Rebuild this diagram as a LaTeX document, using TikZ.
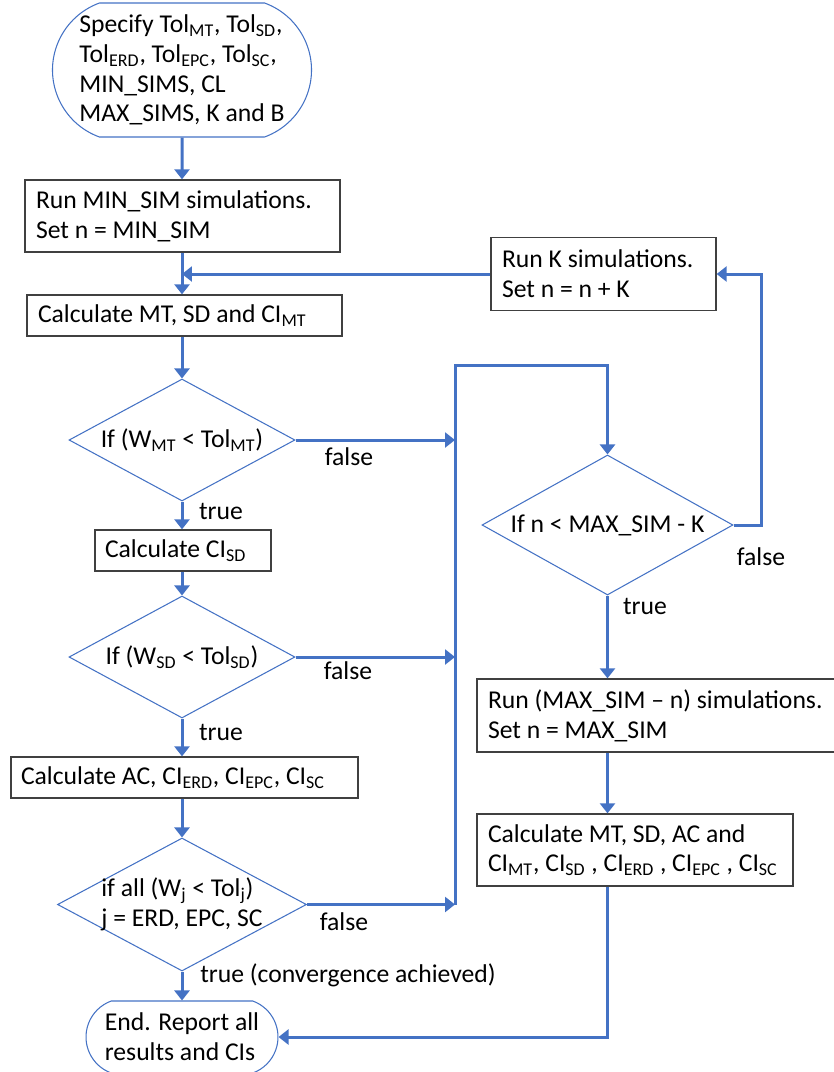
\documentclass[tikz,border=0pt]{standalone}
\usepackage{fontspec}
\setmainfont{Carlito}
\usepackage{tikz}
\definecolor{myblue}{RGB}{68,114,196}
\definecolor{mygray}{RGB}{64,64,64}
\usetikzlibrary{shapes.geometric,shapes.misc,arrows.meta,positioning,calc}
\newlength\pxu
\setlength\pxu{0.02cm}
\newcommand\lo[1]{\textsubscript{#1}}

\begin{document}
\begin{tikzpicture}[
  x=0.02cm, y=-0.02cm,
  font=\fontsize{14.6}{17}\selectfont,
  mybox/.style={
    draw=mygray,
    line width=0.75pt,
    align=flush left,
    inner xsep=11\pxu,
    inner ysep=0pt,
    text width=#1\pxu,
    minimum height=41\pxu
    },
  myterm/.style={
    draw=myblue,
    line width=0.6pt,
    rounded rectangle,
    rounded rectangle arc length=140,
    align=left,
    inner sep=0pt
    },
  mydecision/.style={
    draw=myblue,
    line width=0.6pt,
    diamond,
    shape aspect=#1,
    inner sep=0pt,
    align=left
    },
  flow/.style={
    draw=myblue,
    line width=0.06cm,
    -{Triangle[width=0.3cm,length=0.2cm]}
    },
  mylabel/.style={inner sep=0pt}
]

\useasboundingbox (0,0) rectangle (834,1072);

\node[myterm, minimum width=259\pxu, minimum height=134\pxu] (start) at (182,70)
  {Specify Tol\lo{MT}, Tol\lo{SD},\\
   Tol\lo{ERD}, Tol\lo{EPC}, Tol\lo{SC},\\
   MIN\_SIMS, CL\\
   MAX\_SIMS, K and B};

\node[mybox=293, minimum height=72\pxu] (run1) at (182.5,216)
  {Run MIN\_SIM simulations.\\ Set n = MIN\_SIM};
\node[mybox=293] (calc1) at (184.5,315.5) {Calculate MT, SD and CI\lo{MT}};

\node[mydecision=1.85, minimum width=226\pxu, minimum height=122\pxu] (dec1) at (182,440)
  {If (W\lo{MT} < Tol\lo{MT})};
\node[mybox=156, inner xsep=10\pxu] (calcsd) at (183,550.5) {Calculate CI\lo{SD}};
\node[mydecision=1.85, minimum width=226\pxu, minimum height=122\pxu] (dec2) at (182,657)
  {If (W\lo{SD} < Tol\lo{SD})};
\node[mybox=327, inner xsep=10\pxu] (calc2) at (184.5,777.5)
  {Calculate AC, CI\lo{ERD}, CI\lo{EPC}, CI\lo{SC}};
\node[mydecision=1.87, inner xsep=-14\pxu, minimum width=249\pxu, minimum height=133\pxu] (dec3) at (182,904.5)
  {if all (W\lo{j} < Tol\lo{j})\\ j = ERD, EPC, SC};
\node[myterm, minimum width=192\pxu, minimum height=72\pxu] (end) at (182,1037)
  {End. Report all\\ results and CIs};

\node[mybox=203, minimum height=73\pxu] (runk) at (603.5,274)
  {Run K simulations.\\ Set n = n + K};
\node[mydecision=1.79, inner xsep=-8\pxu, minimum width=251\pxu, minimum height=140\pxu] (dec4) at (607.5,525)
  {If n < MAX\_SIM - K};
\node[mybox=360, minimum height=73\pxu] (runmax) at (668,715.5)
  {Run (MAX\_SIM -- n) simulations.\\ Set n = MAX\_SIM};
\node[mybox=294, minimum height=72\pxu] (calc3) at (635,850)
  {Calculate MT, SD, AC and\\ CI\lo{MT}, CI\lo{SD} , CI\lo{ERD} , CI\lo{EPC} , CI\lo{SC}};

\coordinate (bus) at (455,365);

\draw[flow] (start) -- (start |- run1.north);
\draw[flow] (run1.south -| start) -- (calc1.north -| start);
\draw[flow] (runk.west) -- (runk.west -| start);
\draw[flow] (calc1.south -| start) -- (dec1.north);
\draw[flow] (dec1.south) -- (dec1.south |- calcsd.north);
\draw[flow] (calcsd.south -| start) -- (dec2.north);
\draw[flow] (dec2.south) -- (dec2.south |- calc2.north);
\draw[flow] (calc2.south -| start) -- (dec3.north);
\draw[flow] (dec3.south) -- (dec3.south |- end.north);

\draw[flow] (dec1.east) -- (dec1.east -| bus);
\draw[flow] (dec2.east) -- (dec2.east -| bus);
\draw[flow] (dec3.east) -- (dec3.east -| bus);
\draw[flow] (dec3.east -| bus) -- (bus) -| (dec4.north);

\draw[flow] (dec4.east) -- ++(28,0) |- (runk.east);
\draw[flow] (dec4.south) -- (dec4.south |- runmax.north);
\draw[flow] (runmax.south -| dec4.south) -- (calc3.north -| dec4.south);
\draw[flow] (calc3.south -| dec4.south) |- (end.east);

\node[mylabel] (f1) at (349,457) {false};
\node[mylabel] (t1) at (221,511) {true};
\node[mylabel] (f2) at (348,671) {false};
\node[mylabel] (t2) at (221,732) {true};
\node[mylabel] (f3) at (344,922) {false};
\node[mylabel, anchor=west] (t3) at (200,975) {true (convergence achieved)};
\node[mylabel] (f4) at (761,557) {false};
\node[mylabel] (t4) at (645,606) {true};

\end{tikzpicture}
\end{document}
